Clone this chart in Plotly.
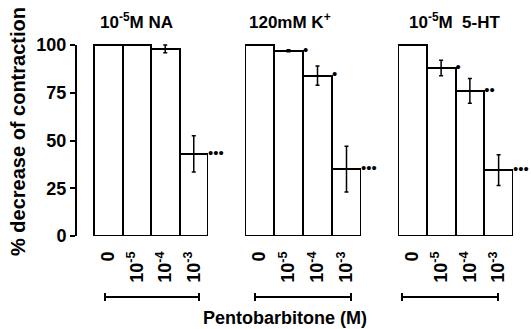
import plotly.graph_objects as go

W, H = 531, 329

categories = ["0", "10<sup>-5</sup>", "10<sup>-4</sup>", "10<sup>-3</sup>"]
panel_titles = ["10<sup>-5</sup>M NA", "120mM K<sup>+</sup>", "10<sup>-5</sup>M  5-HT"]
na_values = [100, 100, 98, 43]
na_err = [0, 0, 2, 9.5]
na_sig = ["", "", "", "•••"]
k_values = [100, 97, 84, 35]
k_err = [0, 0.5, 5, 12]
k_sig = ["", "•", "•", "•••"]
ht_values = [100, 88, 76, 34.5]
ht_err = [0, 4, 6.5, 8]
ht_sig = ["", "•", "••", "•••"]
yticks = [0, 25, 50, 75, 100]
xlabel = "Pentobarbitone (M)"
ylabel = "% decrease of contraction"

panels = [
    (na_values, na_err, na_sig),
    (k_values, k_err, k_sig),
    (ht_values, ht_err, ht_sig),
]

FONT = "Liberation Sans"
fig = go.Figure()

# pixel layout
ybot_px, ytop_px = 236, 26
yrange = [0, 110]
ydom = [1 - ybot_px / H, 1 - ytop_px / H]
xdoms_px = [(76, 208), (245, 361), (398, 513)]
xranges = [[-0.5 - 18 / 28.5, 3.5], [-0.5, 3.5], [-0.5, 3.5]]
title_x_px = [136, 290, 455]
bracket_px = [(105, 199), (255, 351), (402, 498)]

for i, (vals, errs, sigs) in enumerate(panels):
    xa = "x" if i == 0 else f"x{i+1}"
    ya = "y" if i == 0 else f"y{i+1}"
    xs = list(range(len(vals)))
    fig.add_trace(go.Bar(
        x=xs, y=vals, xaxis=xa, yaxis=ya, width=1.0,
        marker=dict(color="white", line=dict(color="black", width=2)),
        error_y=dict(type="data", array=errs, visible=True, color="black",
                     thickness=1.5, width=2),
        showlegend=False,
    ))
    sx = [x + 0.5 for x, s in zip(xs, sigs) if s]
    sy = [v for v, s in zip(vals, sigs) if s]
    st = [s for s in sigs if s]
    fig.add_trace(go.Scatter(
        x=sx, y=sy, xaxis=xa, yaxis=ya,
        mode="text", text=st, textposition="middle right",
        textfont=dict(size=15, color="black", family=FONT),
        cliponaxis=False, showlegend=False,
    ))
    d0, d1 = xdoms_px[i]
    key_x = "xaxis" if i == 0 else f"xaxis{i+1}"
    key_y = "yaxis" if i == 0 else f"yaxis{i+1}"
    fig.layout[key_x] = dict(
        domain=[d0 / W, d1 / W], range=xranges[i], anchor=ya,
        tickvals=xs, ticktext=categories, tickangle=-90,
        showline=False, showgrid=False, zeroline=False, ticks="",
        ticklabelstandoff=11,
        tickfont=dict(size=18, color="black", family=FONT, weight="bold"),
        fixedrange=True, automargin=False,
    )
    fig.layout[key_y] = dict(
        domain=ydom, range=yrange, anchor=xa,
        showgrid=False, zeroline=False, showline=False,
        showticklabels=(i == 0), ticks="outside" if i == 0 else "",
        tickvals=yticks, ticklen=5, tickwidth=2, tickcolor="black",
        tickfont=dict(size=18, color="black", family=FONT, weight="bold"),
        fixedrange=True, automargin=False,
    )
    # panel title
    fig.add_annotation(
        x=title_x_px[i] / W, y=1 - 21 / H, xref="paper", yref="paper",
        xanchor="center", yanchor="middle",
        text=panel_titles[i], showarrow=False,
        font=dict(size=17, color="black", family=FONT, weight="bold"),
    )
    # bracket under each panel
    yb = 1 - 297 / H
    capl = 4 / H
    x0, x1 = bracket_px[i][0] / W, bracket_px[i][1] / W
    for sh in [
        dict(x0=x0, x1=x1, y0=yb, y1=yb),
        dict(x0=x0, x1=x0, y0=yb - capl, y1=yb + capl),
        dict(x0=x1, x1=x1, y0=yb - capl, y1=yb + capl),
    ]:
        fig.add_shape(type="line", xref="paper", yref="paper",
                      line=dict(color="black", width=2), **sh)

# y axis line from 0 to 100
fig.add_shape(type="line", xref="x domain", yref="y", x0=0, x1=0, y0=0, y1=100,
              line=dict(color="black", width=2))

fig.add_annotation(
    x=285 / W, y=1 - 318 / H, xref="paper", yref="paper", text=xlabel,
    xanchor="center", yanchor="middle",
    showarrow=False, font=dict(size=18, color="black", family=FONT, weight="bold"),
)
fig.add_annotation(
    x=18 / W, y=1 - 132 / H, xref="paper", yref="paper", text=ylabel,
    xanchor="center", yanchor="middle",
    textangle=-90, showarrow=False,
    font=dict(size=20, color="black", family=FONT, weight="bold"),
)

fig.update_layout(
    width=W, height=H, margin=dict(l=0, r=0, t=0, b=0),
    paper_bgcolor="white", plot_bgcolor="white", bargap=0,
)
fig.write_html("out.html", config={"displayModeBar": False},
               post_script="document.body.style.margin='0';document.body.style.padding='0';")
